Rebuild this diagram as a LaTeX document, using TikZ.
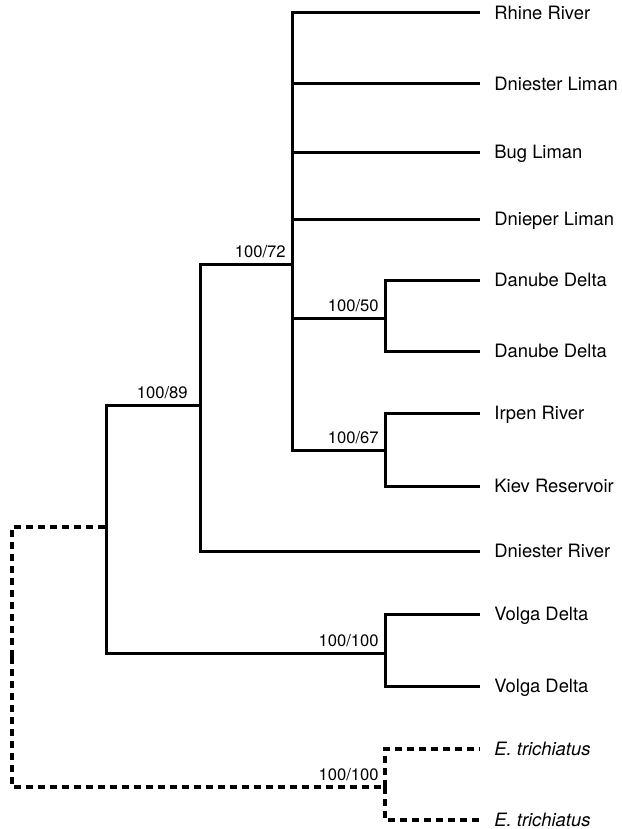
\documentclass[tikz,border=0pt]{standalone}
\usepackage{fontspec}
\setmainfont{TeX Gyre Heros}
\begin{document}
\begin{tikzpicture}[x=0.5pt,y=-0.5pt,
	branch/.style={line width=1.5pt},
	outbranch/.style={line width=1.6pt, dash pattern=on 3.5pt off 2.5pt},
	leaf/.style={anchor=west, inner xsep=7pt, inner ysep=0pt, text height=6.6pt, text depth=0pt, font=\fontsize{9.2}{11}\selectfont},
	boot/.style={anchor=south east, inner sep=3pt, font=\fontsize{8.3}{10}\selectfont}]
		
		\useasboundingbox (0,0) rectangle (621,829);
		
		%%%%% Leaves %%%%%%
		\node[leaf] (rhine) at (480,13){Rhine River};
		\node[leaf] (dnlim) at (480,84){Dniester Liman};
		\node[leaf] (bug) at (480,152){Bug Liman};
		\node[leaf] (dnplim) at (480,219){Dnieper Liman};
		\node[leaf] (dan1) at (480,280){Danube Delta};
		\node[leaf] (dan2) at (480,351){Danube Delta};
		\node[leaf] (irpen) at (480,413){Irpen River};
		\node[leaf] (kiev) at (480,486){Kiev Reservoir};
		\node[leaf] (dnriv) at (480,551){Dniester River};
		\node[leaf] (vol1) at (480,614){Volga Delta};
		\node[leaf] (vol2) at (480,686){Volga Delta};
		\node[leaf] (etri1) at (480,749){\itshape E. trichiatus};
		\node[leaf] (etri2) at (480,820){\itshape E. trichiatus};
		
		%%%%% Inner nodes %%%%%%
		\coordinate (root) at (12,657);
		\coordinate (ingroup) at (106,527);
		\coordinate (n89) at (200,405);
		\coordinate (n72) at (292,264);
		\coordinate (n50) at (385,318);
		\coordinate (n67) at (385,450);
		\coordinate (nvol) at (385,653);
		\coordinate (nout) at (385,787);
		
		%%%%% Branches %%%%%%
		\draw[outbranch] (root) |- (ingroup);
		\draw[outbranch] (root) |- (nout);
		\draw[outbranch] (nout) |- (etri1.west);
		\draw[outbranch] (nout) |- (etri2.west);
		
		\draw[branch] (ingroup) |- (n89);
		\draw[branch] (ingroup) |- (nvol);
		\draw[branch] (n89) |- (n72);
		\draw[branch] (n89) |- (dnriv.west);
		\draw[branch] (n72) |- (rhine.west);
		\draw[branch] (n72) |- (dnlim.west);
		\draw[branch] (n72) |- (bug.west);
		\draw[branch] (n72) |- (dnplim.west);
		\draw[branch] (n72) |- (n50);
		\draw[branch] (n72) |- (n67);
		\draw[branch] (n50) |- (dan1.west);
		\draw[branch] (n50) |- (dan2.west);
		\draw[branch] (n67) |- (irpen.west);
		\draw[branch] (n67) |- (kiev.west);
		\draw[branch] (nvol) |- (vol1.west);
		\draw[branch] (nvol) |- (vol2.west);
		
		%%%%% Support values %%%%%%
		\node[boot] (b89) at ([xshift=-3pt]n89){100/89};
		\node[boot] (b72) at (n72){100/72};
		\node[boot] (b50) at (n50){100/50};
		\node[boot] (b67) at (n67){100/67};
		\node[boot] (bvol) at (nvol){100/100};
		\node[boot] (bout) at (nout){100/100};
		
		\end{tikzpicture}
\end{document}
